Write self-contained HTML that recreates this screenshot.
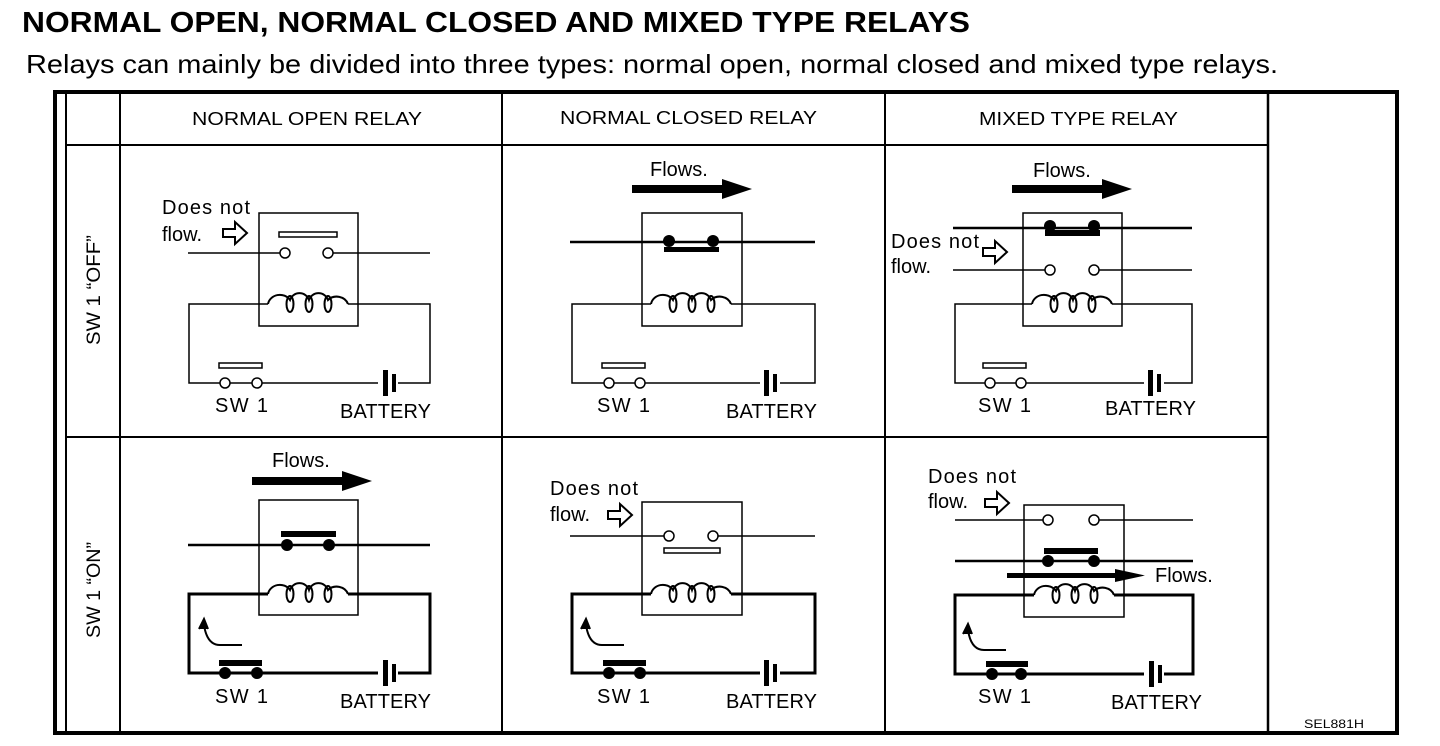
<!DOCTYPE html>
<html><head><meta charset="utf-8"><style>
html,body{margin:0;padding:0;background:#fff;}
svg{display:block;}
text{font-family:"Liberation Sans",Arial,sans-serif;fill:#000;}
</style></head><body>
<svg width="1440" height="746" viewBox="0 0 1440 746" xmlns="http://www.w3.org/2000/svg">
<defs>
<g id="coil" fill="none" stroke="#000" stroke-width="2">
<path d="M0,0 A12,11 0 0 1 22,-4 A10,10 0 0 1 41,-4 A10,10 0 0 1 60,-4 A12,11 0 0 1 80,0"/>
<ellipse cx="22" cy="0" rx="3.5" ry="8"/><ellipse cx="41" cy="0" rx="3.5" ry="8"/><ellipse cx="60" cy="0" rx="3.5" ry="8"/>
</g>
<g id="hollow"><path d="M0,-4 H12 V-11 L24,0 L12,11 V4 H0 Z" fill="#fff" stroke="#000" stroke-width="2"/></g>
<g id="batt"><rect x="0" y="-13" width="5" height="26" fill="#000"/><rect x="9" y="-9" width="4" height="18" fill="#000"/></g>
<g id="bigarrow"><rect x="0" y="-4" width="92" height="8" fill="#000"/><path d="M90,-10 L120,0 L90,10 Z" fill="#000"/></g>
<g id="curl" fill="none" stroke="#000" stroke-width="2"><path d="M40,0 H18 Q5,0 2,-20"/><path d="M-3,-16 L2,-26 L6,-16" fill="#000"/></g>
</defs>

<text x="22" y="32" font-size="29" font-weight="bold" textLength="948" lengthAdjust="spacingAndGlyphs">NORMAL OPEN, NORMAL CLOSED AND MIXED TYPE RELAYS</text>
<text x="26" y="73" font-size="26" textLength="1252" lengthAdjust="spacingAndGlyphs">Relays can mainly be divided into three types: normal open, normal closed and mixed type relays.</text>

<g stroke="#000" fill="none">
<rect x="55" y="92" width="1342" height="641" stroke-width="4"/>
<line x1="66" y1="92" x2="66" y2="733" stroke-width="2"/>
<line x1="120" y1="92" x2="120" y2="733" stroke-width="2"/>
<line x1="502" y1="92" x2="502" y2="733" stroke-width="2"/>
<line x1="885" y1="92" x2="885" y2="733" stroke-width="2"/>
<line x1="1268" y1="92" x2="1268" y2="733" stroke-width="2.5"/>
<line x1="66" y1="145" x2="1268" y2="145" stroke-width="2"/>
<line x1="66" y1="437" x2="1268" y2="437" stroke-width="2"/>
</g>
<g font-size="18">
<text x="192" y="125" textLength="230" lengthAdjust="spacingAndGlyphs">NORMAL OPEN RELAY</text>
<text x="560" y="124" textLength="257" lengthAdjust="spacingAndGlyphs">NORMAL CLOSED RELAY</text>
<text x="979" y="125" textLength="199" lengthAdjust="spacingAndGlyphs">MIXED TYPE RELAY</text>
</g>
<text transform="translate(100,290) rotate(-90)" font-size="19" text-anchor="middle" textLength="110" lengthAdjust="spacingAndGlyphs">SW 1 “OFF”</text>
<text transform="translate(100,590) rotate(-90)" font-size="19" text-anchor="middle" textLength="96" lengthAdjust="spacingAndGlyphs">SW 1 “ON”</text>
<text x="1304" y="728" font-size="12" textLength="60" lengthAdjust="spacingAndGlyphs">SEL881H</text>

<g font-size="20">
<!-- Cell 1 -->
<g stroke="#000" fill="none" stroke-width="1.5">
<rect x="259" y="213" width="99" height="113"/>
<line x1="188" y1="253" x2="280" y2="253"/><line x1="333" y1="253" x2="430" y2="253"/>
<circle cx="285" cy="253" r="5" fill="#fff"/><circle cx="328" cy="253" r="5" fill="#fff"/>
<rect x="279" y="232" width="58" height="5" fill="#fff"/>
<polyline points="268,304 189,304 189,383 220,383"/><line x1="230" y1="383" x2="252" y2="383"/>
<polyline points="348,304 430,304 430,383 262,383"/>
<circle cx="225" cy="383" r="5" fill="#fff"/><circle cx="257" cy="383" r="5" fill="#fff"/>
<rect x="219" y="363" width="43" height="5" fill="#fff"/>
</g>
<use href="#coil" x="268" y="304"/>
<rect x="378" y="370" width="20" height="26" fill="#fff"/><use href="#batt" x="383" y="383"/>
<use href="#hollow" x="223" y="233"/>
<text x="162" y="214" textLength="88">Does not</text><text x="162" y="241">flow.</text>
<text x="215" y="412" textLength="53">SW 1</text><text x="340" y="418" textLength="91">BATTERY</text>

<!-- Cell 2 -->
<g stroke="#000" fill="none" stroke-width="1.5">
<rect x="642" y="213" width="100" height="113"/>
<line x1="570" y1="242" x2="815" y2="242" stroke-width="2.5"/>
<polyline points="651,304 572,304 572,383 604,383"/><line x1="614" y1="383" x2="635" y2="383"/>
<polyline points="731,304 815,304 815,383 645,383"/>
<circle cx="609" cy="383" r="5" fill="#fff"/><circle cx="640" cy="383" r="5" fill="#fff"/>
<rect x="602" y="363" width="43" height="5" fill="#fff"/>
</g>
<circle cx="669" cy="241" r="6"/><circle cx="713" cy="241" r="6"/>
<rect x="664" y="247" width="55" height="5"/>
<use href="#coil" x="651" y="304"/>
<rect x="760" y="370" width="20" height="26" fill="#fff"/><use href="#batt" x="764" y="383"/>
<use href="#bigarrow" x="632" y="189"/><text x="650" y="176">Flows.</text>
<text x="597" y="412" textLength="53">SW 1</text><text x="726" y="418" textLength="91">BATTERY</text>

<!-- Cell 3 -->
<g stroke="#000" fill="none" stroke-width="1.5">
<rect x="1023" y="213" width="99" height="113"/>
<line x1="953" y1="228" x2="1192" y2="228" stroke-width="2.5"/>
<line x1="953" y1="270" x2="1045" y2="270"/><line x1="1099" y1="270" x2="1192" y2="270"/>
<circle cx="1050" cy="270" r="5" fill="#fff"/><circle cx="1094" cy="270" r="5" fill="#fff"/>
<polyline points="1032,304 955,304 955,383 985,383"/><line x1="995" y1="383" x2="1016" y2="383"/>
<polyline points="1112,304 1192,304 1192,383 1026,383"/>
<circle cx="990" cy="383" r="5" fill="#fff"/><circle cx="1021" cy="383" r="5" fill="#fff"/>
<rect x="983" y="363" width="43" height="5" fill="#fff"/>
</g>
<circle cx="1050" cy="226" r="6"/><circle cx="1094" cy="226" r="6"/>
<rect x="1045" y="230" width="55" height="6"/>
<use href="#coil" x="1032" y="304"/>
<rect x="1144" y="370" width="20" height="26" fill="#fff"/><use href="#batt" x="1148" y="383"/>
<use href="#bigarrow" x="1012" y="189"/><text x="1033" y="177">Flows.</text>
<use href="#hollow" x="983" y="252"/>
<text x="891" y="248" textLength="88">Does not</text><text x="891" y="273">flow.</text>
<text x="978" y="412" textLength="53">SW 1</text><text x="1105" y="415" textLength="91">BATTERY</text>

<!-- Cell 4 -->
<g stroke="#000" fill="none" stroke-width="1.5">
<rect x="259" y="500" width="99" height="115"/>
<line x1="188" y1="545" x2="430" y2="545" stroke-width="2.5"/>
<g stroke-width="3"><polyline points="268,594 189,594 189,673 430,673 430,594 348,594"/></g>
</g>
<circle cx="287" cy="545" r="6"/><circle cx="329" cy="545" r="6"/>
<rect x="281" y="531" width="55" height="6"/>
<use href="#coil" x="268" y="594"/>
<circle cx="225" cy="673" r="6"/><circle cx="257" cy="673" r="6"/>
<rect x="219" y="660" width="43" height="6"/>
<rect x="378" y="660" width="20" height="26" fill="#fff"/><use href="#batt" x="383" y="673"/>
<use href="#bigarrow" x="252" y="481"/><text x="272" y="467">Flows.</text>
<use href="#curl" x="202" y="645"/>
<text x="215" y="703" textLength="53">SW 1</text><text x="340" y="708" textLength="91">BATTERY</text>

<!-- Cell 5 -->
<g stroke="#000" fill="none" stroke-width="1.5">
<rect x="642" y="502" width="100" height="113"/>
<line x1="570" y1="536" x2="664" y2="536"/><line x1="718" y1="536" x2="815" y2="536"/>
<circle cx="669" cy="536" r="5" fill="#fff"/><circle cx="713" cy="536" r="5" fill="#fff"/>
<rect x="664" y="548" width="56" height="5" fill="#fff"/>
<g stroke-width="3"><polyline points="651,594 572,594 572,673 815,673 815,594 731,594"/></g>
</g>
<use href="#coil" x="651" y="594"/>
<circle cx="609" cy="673" r="6"/><circle cx="640" cy="673" r="6"/>
<rect x="603" y="660" width="43" height="6"/>
<rect x="760" y="660" width="20" height="26" fill="#fff"/><use href="#batt" x="764" y="673"/>
<use href="#hollow" x="608" y="515"/>
<text x="550" y="495" textLength="88">Does not</text><text x="550" y="521">flow.</text>
<use href="#curl" x="584" y="645"/>
<text x="597" y="703" textLength="53">SW 1</text><text x="726" y="708" textLength="91">BATTERY</text>

<!-- Cell 6 -->
<g stroke="#000" fill="none" stroke-width="1.5">
<rect x="1024" y="505" width="100" height="112"/>
<line x1="955" y1="520" x2="1043" y2="520"/><line x1="1099" y1="520" x2="1193" y2="520"/>
<circle cx="1048" cy="520" r="5" fill="#fff"/><circle cx="1094" cy="520" r="5" fill="#fff"/>
<line x1="955" y1="561" x2="1193" y2="561" stroke-width="2.5"/>
<g stroke-width="3"><polyline points="1034,595 955,595 955,674 1193,674 1193,595 1114,595"/></g>
</g>
<circle cx="1048" cy="561" r="6"/><circle cx="1094" cy="561" r="6"/>
<rect x="1044" y="548" width="54" height="6"/>
<rect x="1007" y="573" width="110" height="5"/><path d="M1115,569 L1145,575.5 L1115,582 Z"/>
<text x="1155" y="582">Flows.</text>
<use href="#coil" x="1034" y="595"/>
<circle cx="992" cy="674" r="6"/><circle cx="1021" cy="674" r="6"/>
<rect x="986" y="661" width="42" height="6"/>
<rect x="1144" y="661" width="20" height="26" fill="#fff"/><use href="#batt" x="1149" y="674"/>
<use href="#hollow" x="985" y="503"/>
<text x="928" y="483" textLength="88">Does not</text><text x="928" y="508">flow.</text>
<use href="#curl" x="966" y="650"/>
<text x="978" y="703" textLength="53">SW 1</text><text x="1111" y="709" textLength="91">BATTERY</text>
</g>
</svg>
</body></html>
